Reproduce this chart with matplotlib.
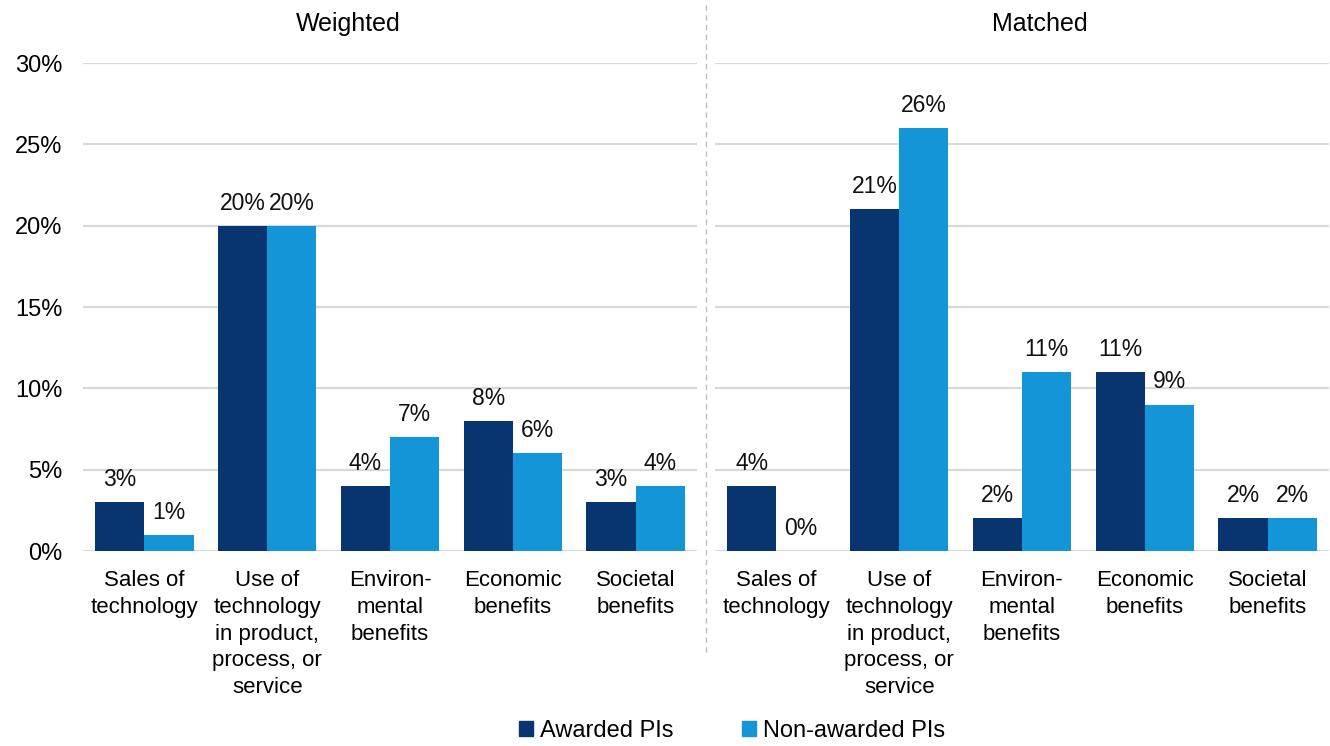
import matplotlib
matplotlib.use('Agg')
import matplotlib.pyplot as plt
from matplotlib.lines import Line2D
from matplotlib.patches import Patch
import numpy as np

plt.rcParams['font.family'] = ['Liberation Sans', 'DejaVu Sans']

categories = [
    'Sales of\ntechnology',
    'Use of\ntechnology\nin product,\nprocess, or\nservice',
    'Environ-\nmental\nbenefits',
    'Economic\nbenefits',
    'Societal\nbenefits',
]
series_names = ['Awarded PIs', 'Non-awarded PIs']
weighted_awarded = [3, 20, 4, 8, 3]
weighted_nonawarded = [1, 20, 7, 6, 4]
matched_awarded = [4, 21, 2, 11, 2]
matched_nonawarded = [0, 26, 11, 9, 2]
yticks = [0, 5, 10, 15, 20, 25, 30]

DARK = '#08346F'
LIGHT = '#1395D8'
GRID = '#D9D9D9'
W, H = 1330, 746

fig = plt.figure(figsize=(W / 100, H / 100), dpi=100)


def panel(rect, awarded, nonawarded, show_y):
    ax = fig.add_axes(rect)
    x = np.arange(len(categories))
    bw = 0.4
    b1 = ax.bar(x - bw / 2, awarded, bw, color=DARK, zorder=3)
    b2 = ax.bar(x + bw / 2, nonawarded, bw, color=LIGHT, zorder=3)
    for bars, vals in ((b1, awarded), (b2, nonawarded)):
        for rect_, v in zip(bars, vals):
            ax.annotate(f'{v}%', (rect_.get_x() + rect_.get_width() / 2, v),
                        xytext=(0, 8), textcoords='offset points',
                        ha='center', va='bottom', fontsize=16.5, color='#111111')
    ax.set_xlim(-0.5, len(categories) - 0.5)
    ax.set_ylim(0, 30)
    ax.set_yticks(yticks)
    ax.yaxis.grid(True, color=GRID, linewidth=1.6, zorder=0)
    ax.set_axisbelow(True)
    for s in ax.spines.values():
        s.set_visible(False)
    ax.tick_params(length=0)
    ax.set_xticks(x)
    ax.set_xticklabels(categories, fontsize=16, linespacing=1.35, va='top')
    ax.tick_params(axis='x', pad=14)
    if show_y:
        ax.set_yticklabels([f'{t}%' for t in yticks], fontsize=17)
        ax.tick_params(axis='y', pad=15)
    else:
        ax.set_yticklabels([])
    return ax


bottom = (H - 551) / H
height = (551 - 63) / H
panel([83 / W, bottom, 614 / W, height], weighted_awarded, weighted_nonawarded, True)
panel([715 / W, bottom, 614 / W, height], matched_awarded, matched_nonawarded, False)

fig.text(348 / W, 1 - 24 / H, 'Weighted', ha='center', va='center', fontsize=18)
fig.text(1040 / W, 1 - 24 / H, 'Matched', ha='center', va='center', fontsize=18)

# dashed divider between the two panels
fig.add_artist(Line2D([706 / W, 706 / W], [1 - 5 / H, 1 - 655 / H],
                      transform=fig.transFigure, color='#BFBFBF',
                      linewidth=1, linestyle=(0, (4, 3))))

handles = [Patch(color=DARK), Patch(color=LIGHT)]
fig.legend(handles, series_names, loc='center', bbox_to_anchor=(732 / W, 1 - 731 / H),
           ncol=2, frameon=False, fontsize=17, handlelength=0.6, handleheight=0.6,
           handletextpad=0.3, columnspacing=2.9)

fig.savefig('out.png', dpi=100)
